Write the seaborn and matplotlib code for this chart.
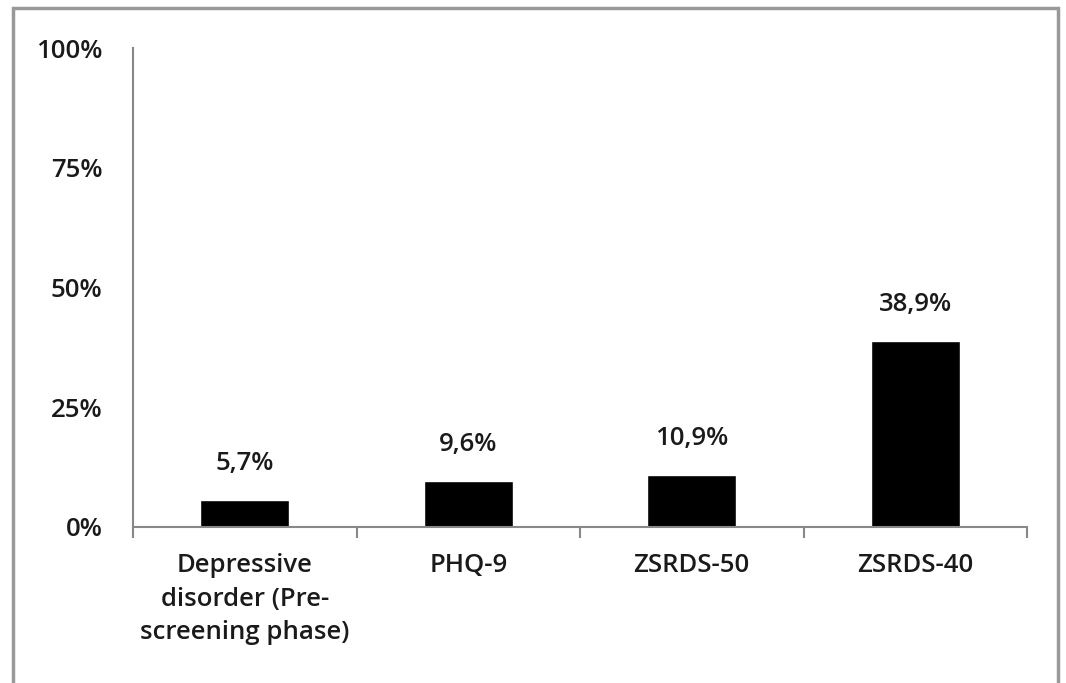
import matplotlib
matplotlib.use("Agg")
import matplotlib.pyplot as plt
import seaborn as sns
import pandas as pd
from matplotlib.patches import Rectangle
from matplotlib.ticker import FixedLocator

categories = ["Depressive\ndisorder (Pre-\nscreening phase)", "PHQ-9", "ZSRDS-50", "ZSRDS-40"]
values = [5.7, 9.6, 10.9, 38.9]
value_labels = ["5,7%", "9,6%", "10,9%", "38,9%"]
y_ticks = [0, 25, 50, 75, 100]
y_tick_labels = ["0%", "25%", "50%", "75%", "100%"]

df = pd.DataFrame({"Category": categories, "Value": values})

sns.set_style("white")
plt.rcParams["font.family"] = ["Open Sans", "DejaVu Sans"]

fig = plt.figure(figsize=(10.66, 6.83), dpi=100)
ax = fig.add_axes([133 / 1066, 1 - 527 / 683, (1027 - 133) / 1066, (527 - 48) / 683])

sns.barplot(data=df, x="Category", y="Value", color="black", width=0.4,
            saturation=1, ax=ax)

fs = 18.5
ax.set_xlim(-0.5, len(categories) - 0.5)
ax.set_ylim(0, 100)
ax.set_yticks(y_ticks)
ax.set_yticklabels(y_tick_labels, fontsize=fs, fontweight="semibold", color="#1a1a1a")
ax.set_xticks(range(len(categories)))
ax.set_xticklabels(categories, fontsize=fs, fontweight="semibold", color="#1a1a1a",
                   linespacing=1.45)
ax.set_xlabel("")
ax.set_ylabel("")

# tick marks between categories on the x axis
ax.xaxis.set_minor_locator(FixedLocator([i - 0.5 for i in range(len(categories) + 1)]))
ax.tick_params(axis="x", which="major", length=0, pad=19)
ax.tick_params(axis="x", which="minor", length=8, width=1.5, color="#888888", direction="out")
ax.tick_params(axis="y", length=8, width=1.5, color="#888888", direction="out", pad=14)
ax.xaxis.set_tick_params(which="minor", bottom=True)

for side in ["top", "right"]:
    ax.spines[side].set_visible(False)
for side in ["left", "bottom"]:
    ax.spines[side].set_color("#888888")
    ax.spines[side].set_linewidth(1.5)

for i, (v, lab) in enumerate(zip(values, value_labels)):
    ax.annotate(lab, (i, v), xytext=(0, 26), textcoords="offset points",
                ha="center", va="center", fontsize=fs, fontweight="semibold",
                color="#1a1a1a")

# outer frame
fig.patches.append(Rectangle((13 / 1066, -0.05), (1058 - 13) / 1066, 1.05 - 8 / 683,
                             transform=fig.transFigure, fill=False,
                             edgecolor="#999999", linewidth=2.5))

fig.savefig("out.png", dpi=100, facecolor="white")
